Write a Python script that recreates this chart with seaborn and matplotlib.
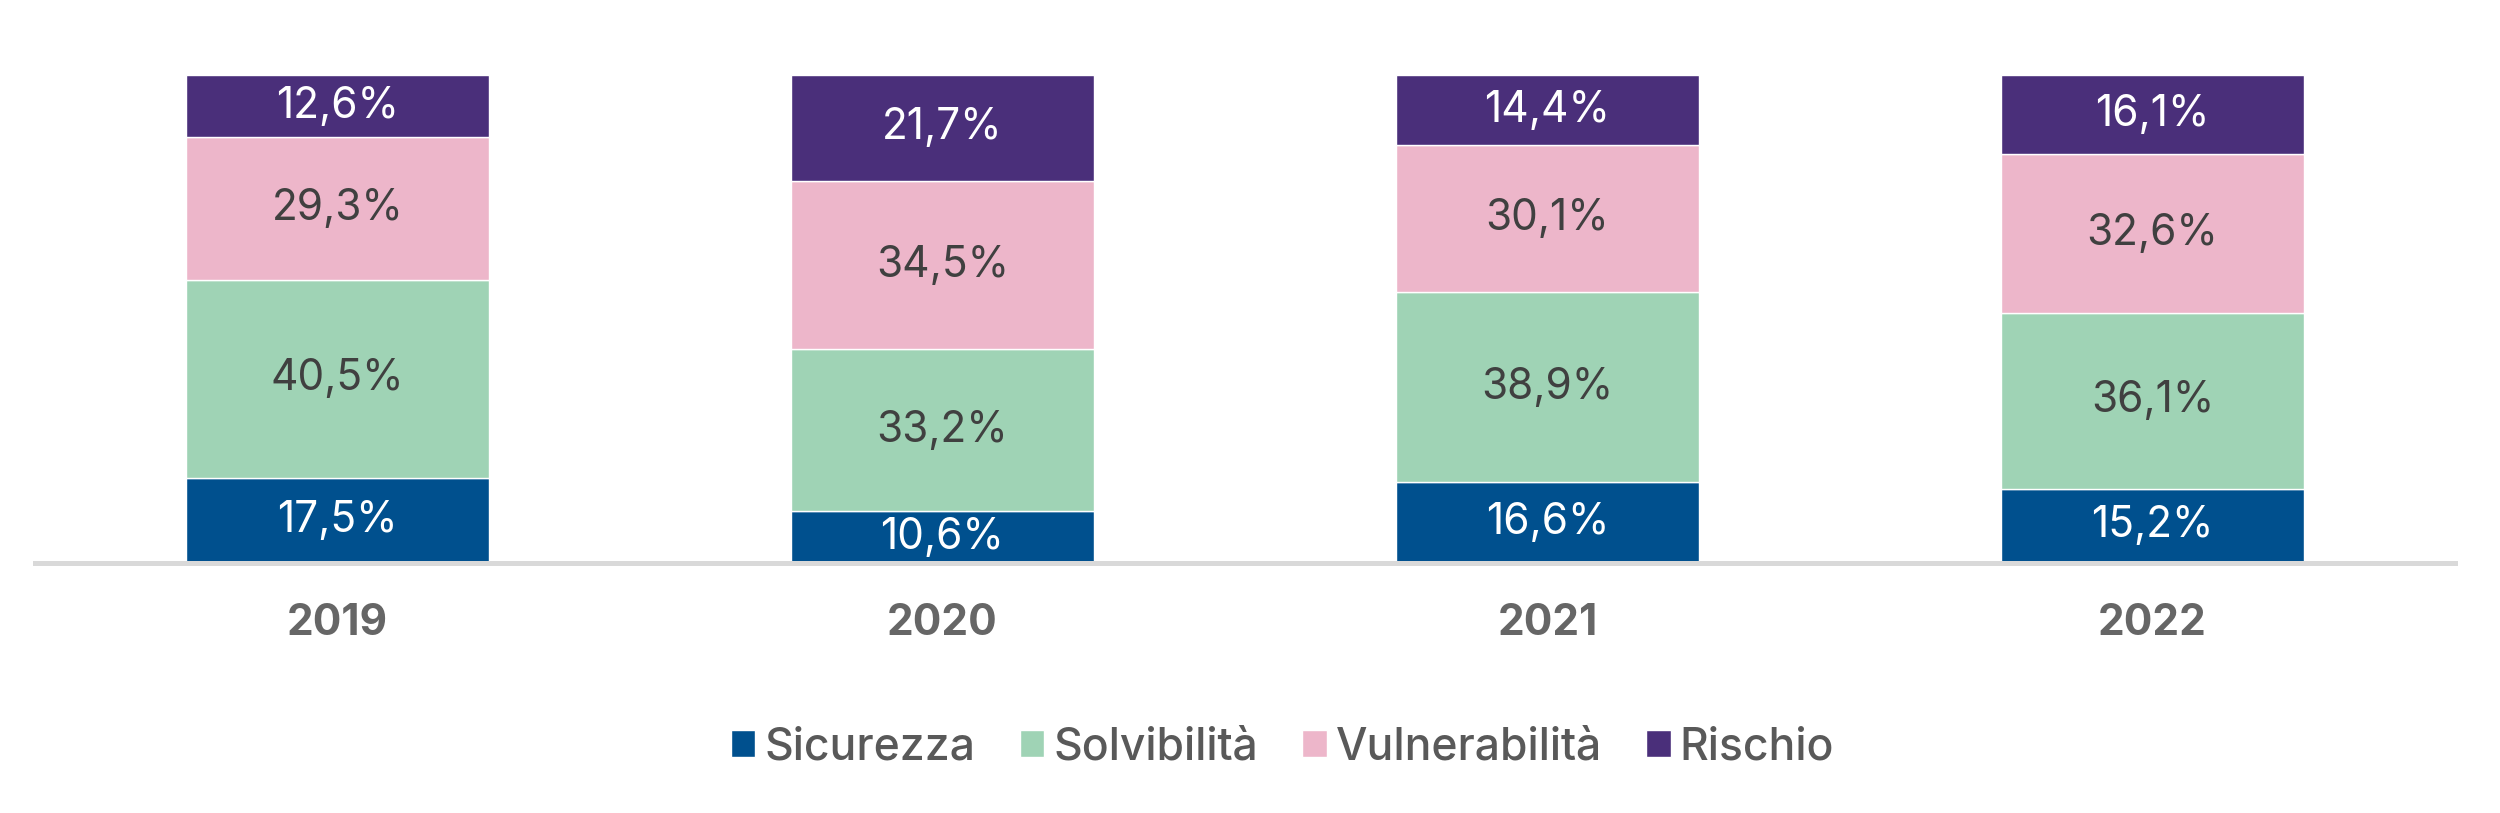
import pandas as pd
import matplotlib.pyplot as plt
import seaborn as sns

# Data
years = ["2019", "2020", "2021", "2022"]
sicurezza = [17.5, 10.6, 16.6, 15.2]
solvibilita = [40.5, 33.2, 38.9, 36.1]
vulnerabilita = [29.3, 34.5, 30.1, 32.6]
rischio = [12.6, 21.7, 14.4, 16.1]

series_names = ["Sicurezza", "Solvibilità", "Vulnerabilità", "Rischio"]
series_values = [sicurezza, solvibilita, vulnerabilita, rischio]
colors = ["#00508e", "#9fd3b5", "#edb6ca", "#4a2f7a"]
label_colors = ["white", "#404040", "#404040", "white"]

df = pd.DataFrame({"year": years})
for name, vals in zip(series_names, series_values):
    df[name] = vals

sns.set_style("white")
plt.rcParams["font.family"] = ["Inter", "DejaVu Sans"]

fig = plt.figure(figsize=(25, 8.13), dpi=100)
ax = fig.add_axes([0.014, 0.3075, 0.968, 0.6003])

bottom = [0.0] * len(years)
for name, color, lc in zip(series_names, colors, label_colors):
    sns.barplot(data=df, x="year", y=name, color=color, width=0.5,
                bottom=bottom, ax=ax, label=name, saturation=1)
    for i, v in enumerate(df[name]):
        ax.text(i, bottom[i] + v / 2, f"{v:.1f}%".replace(".", ","),
                ha="center", va="center", color=lc, fontsize=30.5)
    bottom = [b + v for b, v in zip(bottom, df[name])]

ax.set_xlim(-0.5, 3.5)
ax.set_ylim(0, 100)
ax.set_xlabel("")
ax.set_ylabel("")
ax.set_yticks([])
ax.set_xticks(range(len(years)), years, fontsize=30.5, fontweight="bold",
              color="#666666")
ax.tick_params(axis="x", length=0, pad=29)
for side in ["top", "left", "right"]:
    ax.spines[side].set_visible(False)
ax.spines["bottom"].set_color("#d9d9d9")
ax.spines["bottom"].set_linewidth(3.6)
ax.patch.set_alpha(0)

if ax.get_legend():
    ax.get_legend().remove()
handles, labels = ax.get_legend_handles_labels()
fig.legend(handles, labels, loc="center", bbox_to_anchor=(0.513, 0.081),
           ncol=4, frameon=False,
           prop={"size": 32, "weight": "medium"}, labelcolor="#595959",
           handlelength=0.55, handleheight=0.55, handletextpad=0.2,
           columnspacing=1.0)

plt.savefig("out.png", dpi=100, transparent=True)
